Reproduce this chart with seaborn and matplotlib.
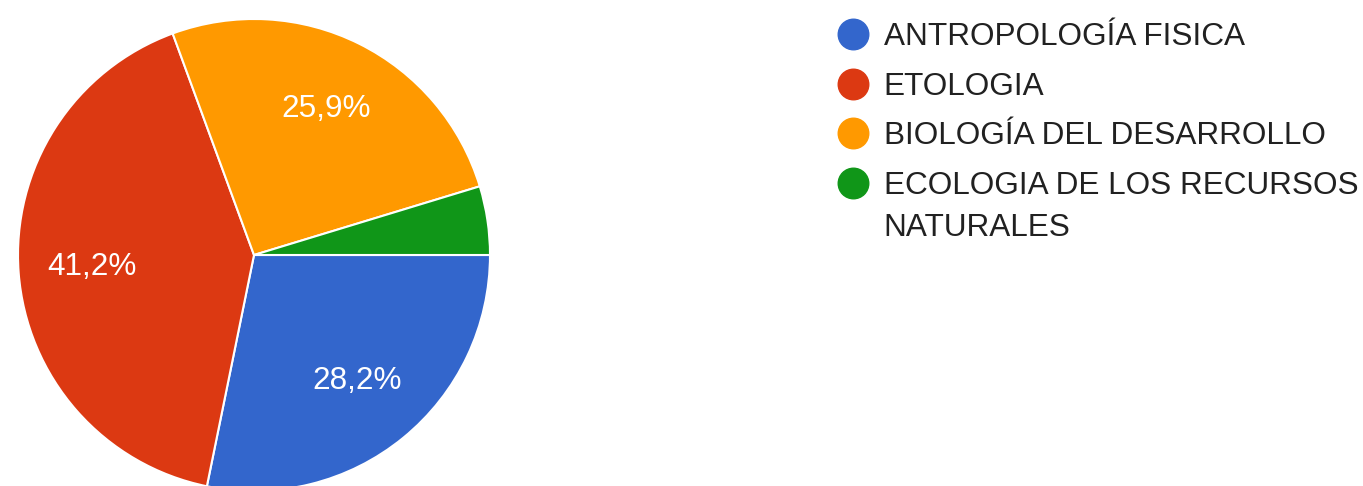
import numpy as np
import matplotlib
matplotlib.use("Agg")
import matplotlib.pyplot as plt
from matplotlib.lines import Line2D
from matplotlib.transforms import offset_copy
import seaborn as sns

categories = ["ANTROPOLOGÍA FISICA", "ETOLOGIA", "BIOLOGÍA DEL DESARROLLO",
              "ECOLOGIA DE LOS RECURSOS NATURALES"]
shares = [28.2, 41.2, 25.9, 4.7]
colors = ["#3366cc", "#dc3912", "#ff9900", "#109618"]

sns.set_theme(style="white")
plt.rcParams["font.family"] = ["Liberation Sans", "DejaVu Sans"]

W, H = 1363, 486
FS = 22.7
fig = plt.figure(figsize=(W / 100, H / 100), dpi=100)
# pie centred at (254, 255) px from top-left, radius 236 px
cx, cy, r = 254, 255, 236
ax = fig.add_axes([(cx - r) / W, (H - cy - r) / H, 2 * r / W, 2 * r / H])

def pct(p):
    return f"{p:.1f}%".replace(".", ",") if p >= 5 else ""

wedges, texts, autotexts = ax.pie(
    shares, colors=colors, startangle=0, counterclock=False,
    autopct=pct, pctdistance=0.69, radius=1,
    wedgeprops=dict(edgecolor="white", linewidth=1.5),
    textprops=dict(color="white", fontsize=FS),
)
ax.set_xlim(-1, 1)
ax.set_ylim(-1, 1)
ax.set_aspect("equal")
ax.axis("off")

# legend: long label wraps after "RECURSOS", second line drawn beneath it
labels = [c for c in categories]
first, rest = labels[-1].rsplit(" ", 1)
labels[-1] = first

handles = [Line2D([], [], marker="o", linestyle="", markersize=22,
                  markerfacecolor=c, markeredgecolor=c) for c in colors]
leg = fig.legend(handles, labels, loc="upper left",
                 bbox_to_anchor=(837.5 / W, 1 - 22 / H),
                 frameon=False, fontsize=FS, handlelength=0.98,
                 handletextpad=0.48, labelspacing=0.62, borderpad=0,
                 borderaxespad=0)
for t in leg.get_texts():
    t.set_color("#212121")

fig.canvas.draw()
bb = leg.get_texts()[-1].get_window_extent()
fig.text(bb.x0, bb.y0 - 42, rest, fontsize=FS, color="#212121",
         transform=None, ha="left", va="bottom")

fig.savefig("out.png", dpi=100)
